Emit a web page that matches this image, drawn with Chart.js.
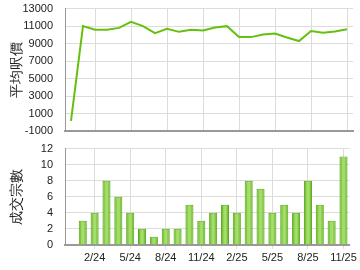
<!DOCTYPE html>
<html>
<head>
<meta charset="utf-8">
<script src="https://cdn.jsdelivr.net/npm/chart.js@4.4.0/dist/chart.umd.min.js"></script>
<style>
  html, body { margin: 0; padding: 0; background: #fff; }
  #wrap { width: 360px; height: 270px; position: relative; }
  .box { position: absolute; left: 0; width: 360px; }
</style>
</head>
<body>
<div id="wrap">
  <div class="box" style="top:0;height:140px"><canvas id="priceChart" width="360" height="140"></canvas></div>
  <div class="box" style="top:140px;height:130px"><canvas id="countChart" width="360" height="130"></canvas></div>
</div>
<script>
// months 12/23 .. 11/25
const months = ["12/23","1/24","2/24","3/24","4/24","5/24","6/24","7/24","8/24","9/24","10/24","11/24",
  "12/24","1/25","2/25","3/25","4/25","5/25","6/25","7/25","8/25","9/25","10/25","11/25"];
const shownLabels = ["2/24","5/24","8/24","11/24","2/25","5/25","8/25","11/25"];

// average price per sq ft
const avgPrice = [200, 11000, 10600, 10600, 10800, 11500, 11000, 10200, 10700, 10350, 10600, 10500,
  10850, 11000, 9750, 9750, 10050, 10150, 9700, 9300, 10450, 10250, 10400, 10650];

// number of transactions
const dealCount = [null, 3, 4, 8, 6, 4, 2, 1, 2, 2, 5, 3,
  4, 5, 4, 8, 7, 4, 5, 4, 8, 5, 3, 11];

const priceTicks = { min: -1000, max: 13000, step: 2000 };
const countTicks = { min: 0, max: 12, step: 2 };

const FONT = "'Liberation Sans', Arial, sans-serif";
const gridColor = "#dcdcdc";
const axisColor = "#999";
const tickFont = { family: FONT, size: 11 };

function xGrid(ctx) {
  const lbl = months[ctx.index];
  return shownLabels.includes(lbl) ? gridColor : "rgba(0,0,0,0)";
}

function fixWidth(scale) { scale.width = 59; }

// y axis grid: invisible tick marks push the labels left of the axis
const yGrid = { color: gridColor, drawTicks: true, tickLength: 10, tickColor: "rgba(0,0,0,0)" };

// top: line chart
new Chart(document.getElementById("priceChart"), {
  type: "line",
  data: {
    labels: months,
    datasets: [{
      data: avgPrice,
      borderColor: "#66c010",
      borderWidth: 2,
      pointRadius: 0,
      tension: 0,
      fill: false,
    }],
  },
  options: {
    responsive: false,
    animation: false,
    layout: { padding: { left: 6, right: 7, top: 0, bottom: 0 } },
    plugins: { legend: { display: false }, tooltip: { enabled: false } },
    scales: {
      x: {
        offset: true,
        ticks: { display: false, autoSkip: false },
        grid: { color: xGrid, drawTicks: false, offset: false },
        border: { color: axisColor, width: 2 },
      },
      y: {
        min: priceTicks.min,
        max: priceTicks.max,
        afterFit: fixWidth,
        ticks: {
          stepSize: priceTicks.step, autoSkip: false, color: "#222",
          font: tickFont, padding: 2,
          callback: (v) => String(v),
        },
        grid: yGrid,
        border: { color: axisColor },
        title: { display: true, text: "平均呎價", color: "#222", font: { family: FONT, size: 14 }, padding: { top: 3, bottom: 0 } },
      },
    },
  },
});

// horizontal gradient for each bar
function barFill(ctx) {
  const chart = ctx.chart;
  const x = chart.scales.x;
  if (!x || !chart.chartArea) return "#8fd14f";
  const cx = x.getPixelForValue(ctx.dataIndex);
  const half = 4;
  const g = chart.ctx.createLinearGradient(cx - half, 0, cx + half, 0);
  g.addColorStop(0, "#4f9f12");
  g.addColorStop(0.35, "#9edb62");
  g.addColorStop(0.6, "#a8e06e");
  g.addColorStop(1, "#55a816");
  return g;
}

// bottom: bar chart
new Chart(document.getElementById("countChart"), {
  type: "bar",
  data: {
    labels: months,
    datasets: [{
      data: dealCount,
      backgroundColor: barFill,
      borderColor: "#5aab1c",
      borderWidth: 1,
      barPercentage: 0.68,
      categoryPercentage: 1,
    }],
  },
  options: {
    responsive: false,
    animation: false,
    layout: { padding: { left: 6, right: 7, top: 0, bottom: 2 } },
    plugins: { legend: { display: false }, tooltip: { enabled: false } },
    scales: {
      x: {
        ticks: {
          autoSkip: false,
          maxRotation: 0,
          color: "#222",
          font: tickFont,
          padding: 3,
          callback: (v, i) => shownLabels.includes(months[i]) ? months[i] : "",
        },
        grid: { color: xGrid, tickColor: xGrid, tickLength: 4, offset: false },
        border: { color: axisColor, width: 2 },
      },
      y: {
        min: countTicks.min,
        max: countTicks.max,
        afterFit: fixWidth,
        ticks: {
          stepSize: countTicks.step, autoSkip: false, color: "#222",
          font: tickFont, padding: 2,
        },
        grid: yGrid,
        border: { color: axisColor },
        title: { display: true, text: "成交宗數", color: "#222", font: { family: FONT, size: 14 }, padding: { top: 3, bottom: 0 } },
      },
    },
  },
});
</script>
</body>
</html>
